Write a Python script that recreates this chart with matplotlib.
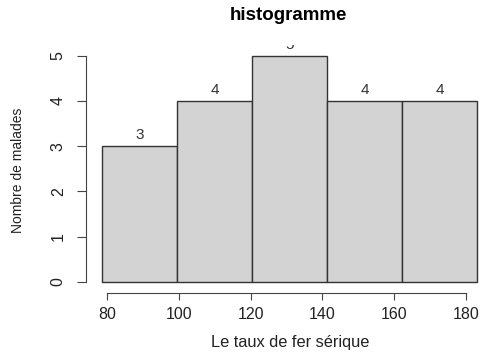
import numpy as np
import matplotlib
matplotlib.use('Agg')
import matplotlib.pyplot as plt

plt.rcParams['font.family'] = ['Liberation Sans', 'DejaVu Sans']

# ── Data ─────────────────────────────────────────────────────────────────────
bin_edges = [78.6, 99.5, 120.4, 141.3, 162.2, 183.1]
counts    = [3, 4, 5, 4, 4]
x_ticks   = [80, 100, 120, 140, 160, 180]
y_ticks   = [0, 1, 2, 3, 4, 5]

AX_COL = '#444444'

# ── Plot ─────────────────────────────────────────────────────────────────────
fig = plt.figure(figsize=(4.8, 3.53), dpi=100)
ax = fig.add_axes([86/480, 60.3/353, 1 - 86/480, (292.7 - 45)/353])

left = np.array(bin_edges[:-1])
widths = np.diff(bin_edges)
ax.bar(left, counts, width=widths, align='edge',
       color='#d3d3d3', edgecolor='#333333', linewidth=1.0)
for x, w, c in zip(left, widths, counts):
    ax.text(x + w/2, c + 0.09, str(c), ha='center', va='bottom',
            fontsize=11, color='#333333', clip_on=True)

ax.set_xlim(74.15, 183.9)
ax.set_ylim(-0.236, 5.236)

for s in ['top', 'right']:
    ax.spines[s].set_visible(False)
ax.spines['left'].set_bounds(0, 5)
ax.spines['bottom'].set_bounds(80, 180)
ax.spines['left'].set_color(AX_COL)
ax.spines['bottom'].set_color(AX_COL)

ax.set_xticks(x_ticks)
ax.set_yticks(y_ticks)
ax.tick_params(axis='x', length=5, color=AX_COL, labelsize=11.5, pad=5,
               labelcolor='#222222')
ax.tick_params(axis='y', length=6.5, color=AX_COL, labelsize=11.5, pad=8,
               labelrotation=90, labelcolor='#222222')
for lab in ax.get_yticklabels():
    lab.set_va('center')

fig.text(288/480, 1 - 16/353, 'histogramme', ha='center', va='center',
         fontsize=13.5, fontweight='bold')
fig.text(290/480, 1 - 343/353, 'Le taux de fer sérique', ha='center',
         va='center', fontsize=11.8, color='#222222')
fig.text(18/480, 1 - 170/353, 'Nombre de malades', ha='center',
         va='center', rotation=90, fontsize=10, color='#222222')

plt.savefig('out.png', dpi=100)
